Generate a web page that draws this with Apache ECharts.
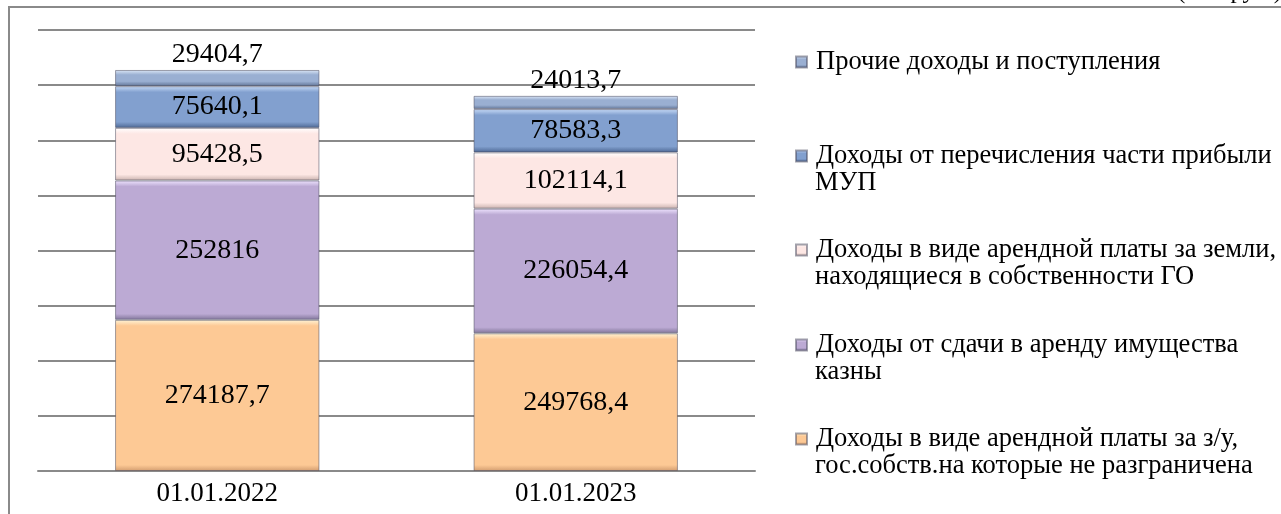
<!DOCTYPE html>
<html>
<head>
<meta charset="utf-8">
<script src="https://cdn.jsdelivr.net/npm/echarts@6/dist/echarts.min.js"></script>
<style>
    html, body { margin: 0; padding: 0; background: #fff; }
    #chart { width: 1281px; height: 514px; }
</style>
</head>
<body>
<div id="chart"></div>
<script>
    // данные (тыс.руб.)
    var categories = ['01.01.2022', '01.01.2023'];
    var landLease = [274187.7, 249768.4];
    var propertyLease = [252816, 226054.4];
    var landRentGO = [95428.5, 102114.1];
    var mupProfit = [75640.1, 78583.3];
    var otherIncome = [29404.7, 24013.7];

    // подписи легенды: первая строка / вторая строка
    var legendLines = [
        ['Доходы в виде арендной платы за з/у,', 'гос.собств.на которые не разграничена'],
        ['Доходы от сдачи в аренду имущества', 'казны'],
        ['Доходы в виде арендной платы за земли,', 'находящиеся в собственности ГО'],
        ['Доходы от перечисления части прибыли', 'МУП'],
        ['Прочие доходы и поступления', '']
    ];
    var seriesData = [landLease, propertyLease, landRentGO, mupProfit, otherIncome];

    var FONT = "'Liberation Serif', 'Times New Roman', serif";
    var colors = [
        { top: '#fff4d6', body: '#fdc995', bottom: '#d39d70' },
        { top: '#efe4ff', body: '#bcaad4', bottom: '#7f7498' },
        { top: '#ffffff', body: '#fde7e4', bottom: '#c9b2ae' },
        { top: '#c8dcf8', body: '#82a0cf', bottom: '#4d6894' },
        { top: '#dde8f7', body: '#9aafd2', bottom: '#5f7396' }
    ];

    var AXIS_MAX = 800000;
    var PLOT_H = 441; // высота области построения, px — только для ширины фаски

    function grad(c, v) {
        var h = v * PLOT_H / AXIS_MAX;
        var f = Math.min(0.3, 6 / h);
        return new echarts.graphic.LinearGradient(0, 0, 0, 1, [
            { offset: 0, color: c.top },
            { offset: f, color: c.body },
            { offset: 1 - f, color: c.body },
            { offset: 1, color: c.bottom }
        ]);
    }

    function fmt(v) {
        return String(v).replace('.', ',');
    }

    var names = legendLines.map(function (l) { return (l[0] + ' ' + l[1]).trim(); });

    var series = seriesData.map(function (arr, i) {
        var last = i === seriesData.length - 1;
        return {
            name: names[i],
            type: 'bar',
            stack: 'total',
            barWidth: '57%',
            data: arr.map(function (v) {
                return { value: v, itemStyle: { color: grad(colors[i], v) } };
            }),
            itemStyle: {
                color: colors[i].body,
                borderColor: 'rgba(70,70,90,0.5)',
                borderWidth: 1
            },
            label: {
                show: true,
                position: last ? 'top' : 'inside',
                distance: 1,
                color: '#000',
                fontFamily: FONT,
                fontSize: 28,
                formatter: function (p) { return fmt(p.value); }
            }
        };
    });

    // легенда: каждая позиция отдельно, сверху вниз в обратном порядке
    var legendTops = [437, 343, 248, 154, 60];
    var legends = [];
    var extraText = [];
    names.forEach(function (n, i) {
        legends.push({
            data: [{ name: n, itemStyle: { color: grad(colors[i], 12000) } }],
            left: 790,
            top: legendTops[i] - 17,
            itemWidth: 11,
            itemHeight: 11,
            icon: 'rect',
            selectedMode: false,
            textStyle: { fontFamily: FONT, fontSize: 26.5, color: '#000', lineHeight: 28, padding: [0, 0, 0, 4] },
            formatter: function () { return legendLines[i][0]; }
        });
        if (legendLines[i][1]) {
            extraText.push({
                type: 'text',
                left: 815,
                top: legendTops[i] + 16,
                style: { text: legendLines[i][1], font: '26.5px ' + FONT, fill: '#000' }
            });
        }
    });

    var chart = echarts.init(document.getElementById('chart'));
    var option = {
        backgroundColor: '#fff',
        animation: false,
        grid: { left: 38, right: 526, top: 30, bottom: 43 },
        legend: legends,
        xAxis: {
            type: 'category',
            data: categories,
            axisTick: { show: false },
            axisLine: { lineStyle: { color: '#8a8a8a', width: 2 } },
            axisLabel: { color: '#000', fontFamily: FONT, fontSize: 27, margin: 9 }
        },
        yAxis: {
            type: 'value',
            min: 0,
            max: AXIS_MAX,
            interval: 100000,
            axisLabel: { show: false },
            axisLine: { show: false },
            axisTick: { show: false },
            splitLine: { lineStyle: { color: '#8a8a8a', width: 2 } }
        },
        series: series,
        graphic: [
            {
                type: 'polyline',
                shape: { points: [[9, 514], [9, 7], [1281, 7]] },
                style: { stroke: '#8a8a8a', lineWidth: 2, fill: null }
            },
            {
                type: 'text',
                left: 1177,
                top: -21,
                style: { text: '(тыс.руб.)', font: '25px ' + FONT, fill: '#000' }
            }
        ].concat(extraText)
    };
    chart.setOption(option);
</script>
</body>
</html>
